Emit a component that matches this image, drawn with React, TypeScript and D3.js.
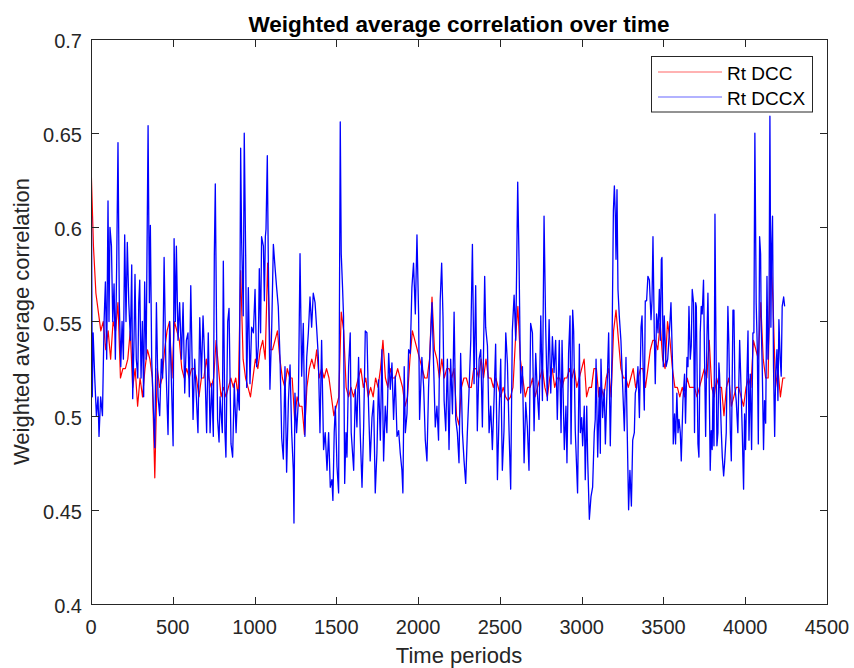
import React from 'react';
import * as d3 from 'd3';

const TITLE = 'Weighted average correlation over time';
const X_LABEL = 'Time periods';
const Y_LABEL = 'Weighted average correlation';
const SERIES_NAMES = ['Rt DCC', 'Rt DCCX'];
const SERIES_COLORS = ['#ff0000', '#0000ff'];
const X_TICKS = [0, 500, 1000, 1500, 2000, 2500, 3000, 3500, 4000, 4500];
const Y_TICKS = [0.4, 0.45, 0.5, 0.55, 0.6, 0.65, 0.7];
const Y_TICK_LABELS = ['0.4', '0.45', '0.5', '0.55', '0.6', '0.65', '0.7'];
const X_DOMAIN = [0, 4500];
const Y_DOMAIN = [0.4, 0.7];
// sampling interval (time periods) of the Rt DCC values
const DCC_TIME_STEP = 15;

const rtDCC = [
  0.634, 0.59, 0.565, 0.555, 0.545, 0.55, 0.535, 0.545, 0.53, 0.55,
  0.545, 0.56, 0.52, 0.525, 0.525, 0.53, 0.545, 0.515, 0.525, 0.505,
  0.52, 0.51, 0.525, 0.535, 0.53, 0.52, 0.467, 0.525, 0.515, 0.52,
  0.535, 0.545, 0.55, 0.52, 0.55, 0.545, 0.54, 0.525, 0.52, 0.525,
  0.52, 0.525, 0.525, 0.52, 0.51, 0.52, 0.52, 0.53,
  0.52, 0.515, 0.52, 0.54, 0.525, 0.51, 0.515, 0.51, 0.515, 0.52,
  0.515, 0.52, 0.51, 0.577, 0.53, 0.52, 0.515, 0.51, 0.52, 0.53,
  0.525, 0.535, 0.54, 0.53, 0.581, 0.535, 0.535, 0.54, 0.545, 0.53,
  0.52, 0.515, 0.525, 0.52, 0.52, 0.498, 0.51, 0.505, 0.505, 0.49,
  0.515, 0.525, 0.53, 0.525, 0.535, 0.52, 0.525,
  0.52, 0.525, 0.52, 0.51, 0.50, 0.505, 0.51, 0.555, 0.545, 0.515,
  0.51, 0.515, 0.51, 0.515, 0.52, 0.525, 0.515, 0.52, 0.51, 0.515,
  0.51, 0.52, 0.515, 0.525, 0.54, 0.52, 0.515, 0.525, 0.52, 0.52,
  0.525, 0.52, 0.515, 0.505, 0.51, 0.53, 0.545, 0.54, 0.535, 0.53,
  0.525, 0.52, 0.52, 0.53, 0.563, 0.535, 0.53, 0.52,
  0.53, 0.52, 0.525, 0.525, 0.52, 0.525, 0.50, 0.495, 0.515, 0.52,
  0.52, 0.515, 0.515, 0.525, 0.525, 0.52, 0.53, 0.52, 0.53, 0.52,
  0.52, 0.515, 0.52, 0.515, 0.51, 0.515, 0.51, 0.508, 0.51, 0.515,
  0.54, 0.558, 0.53, 0.52, 0.51, 0.515, 0.515, 0.52, 0.51, 0.515,
  0.52, 0.525, 0.515, 0.51, 0.52, 0.525, 0.515, 0.52,
  0.52, 0.515, 0.52, 0.52, 0.525, 0.52, 0.525, 0.515, 0.52, 0.525,
  0.53, 0.51, 0.515, 0.515, 0.525, 0.525, 0.51, 0.515, 0.51, 0.52,
  0.525, 0.51, 0.545, 0.556, 0.54, 0.525, 0.52, 0.52, 0.515, 0.52,
  0.525, 0.515, 0.52, 0.525, 0.525, 0.515, 0.525, 0.535, 0.54, 0.54,
  0.535, 0.549, 0.53, 0.525, 0.55, 0.54, 0.525,
  0.515, 0.515, 0.51, 0.515, 0.51, 0.52, 0.515, 0.515, 0.515, 0.51,
  0.515, 0.52, 0.525, 0.52, 0.54, 0.515, 0.51, 0.52, 0.515, 0.515,
  0.50, 0.515, 0.52, 0.505, 0.51, 0.515, 0.515, 0.51, 0.505, 0.515,
  0.52, 0.515, 0.54, 0.535, 0.53, 0.56, 0.53, 0.52, 0.52, 0.59,
  0.56, 0.515, 0.525, 0.51, 0.52, 0.52,
];

// Rt DCCX as [time period, value] readings
const rtDCCX: [number, number][] = [
  [0, 0.53], [3, 0.606], [8, 0.51], [13, 0.544], [23, 0.52], [33, 0.5], [43, 0.51], [49, 0.489],
  [59, 0.51], [70, 0.5], [80, 0.55], [88, 0.571], [96, 0.53], [104, 0.614], [110, 0.55], [116, 0.6],
  [125, 0.59], [133, 0.55], [141, 0.57], [149, 0.53], [157, 0.58], [165, 0.645], [173, 0.56], [182, 0.526],
  [190, 0.55], [198, 0.53], [206, 0.596], [214, 0.55], [222, 0.592], [231, 0.56], [241, 0.54], [249, 0.58],
  [255, 0.509], [263, 0.54], [269, 0.575], [277, 0.53], [286, 0.52], [292, 0.56], [298, 0.572], [306, 0.52],
  [314, 0.55], [322, 0.51], [328, 0.571], [337, 0.53], [349, 0.654], [357, 0.56], [363, 0.601], [371, 0.53],
  [379, 0.51], [390, 0.483], [400, 0.56], [410, 0.51], [420, 0.5], [430, 0.53], [438, 0.52], [447, 0.584],
  [457, 0.53], [471, 0.49], [481, 0.55], [491, 0.52], [502, 0.484], [508, 0.594], [516, 0.55], [522, 0.59],
  [532, 0.54], [542, 0.56], [553, 0.53], [563, 0.56], [573, 0.512], [583, 0.54], [593, 0.544], [601, 0.51],
  [610, 0.569], [618, 0.53], [624, 0.498], [634, 0.53], [644, 0.51], [654, 0.491], [665, 0.552], [675, 0.52],
  [685, 0.553], [695, 0.53],
  [707, 0.491], [717, 0.544], [728, 0.491], [738, 0.517], [748, 0.489], [754, 0.585], [760, 0.623], [768, 0.544],
  [774, 0.498], [783, 0.486], [789, 0.51], [803, 0.491], [809, 0.582], [819, 0.491], [825, 0.478], [836, 0.55],
  [844, 0.557], [856, 0.485], [866, 0.478], [876, 0.517], [887, 0.491], [897, 0.514], [907, 0.503], [915, 0.642],
  [921, 0.593], [931, 0.553], [937, 0.65], [946, 0.583], [952, 0.515], [962, 0.568], [972, 0.517], [982, 0.547],
  [993, 0.544], [1003, 0.567], [1013, 0.526], [1023, 0.537], [1029, 0.578], [1037, 0.544], [1043, 0.595], [1054, 0.59],
  [1060, 0.561], [1066, 0.595], [1070, 0.599], [1078, 0.638], [1084, 0.583], [1094, 0.514], [1105, 0.547], [1115, 0.591],
  [1125, 0.579], [1135, 0.568], [1145, 0.558], [1156, 0.53], [1166, 0.488], [1176, 0.477], [1186, 0.526], [1196, 0.47],
  [1207, 0.508], [1217, 0.527], [1227, 0.491], [1237, 0.471], [1241, 0.443], [1247, 0.512], [1257, 0.491], [1268, 0.508],
  [1278, 0.586], [1288, 0.521], [1298, 0.549], [1308, 0.489], [1319, 0.531], [1329, 0.544], [1339, 0.563], [1349, 0.547],
  [1359, 0.565], [1370, 0.56], [1380, 0.546], [1390, 0.531], [1400, 0.491], [1410, 0.54],
  [1422, 0.482], [1432, 0.491], [1443, 0.471], [1453, 0.491], [1463, 0.462], [1473, 0.466], [1479, 0.455], [1487, 0.491],
  [1494, 0.505], [1504, 0.473], [1514, 0.459], [1524, 0.656], [1530, 0.586], [1538, 0.568], [1544, 0.553], [1551, 0.464],
  [1559, 0.491], [1565, 0.478], [1575, 0.526], [1585, 0.544], [1591, 0.491], [1606, 0.471], [1616, 0.514], [1626, 0.494],
  [1636, 0.531], [1646, 0.491], [1657, 0.462], [1667, 0.494], [1677, 0.545], [1687, 0.544], [1697, 0.505], [1707, 0.476],
  [1718, 0.499], [1728, 0.508], [1738, 0.459], [1748, 0.48], [1758, 0.519], [1769, 0.487], [1779, 0.535], [1789, 0.476],
  [1799, 0.505], [1809, 0.491], [1820, 0.533], [1830, 0.514], [1840, 0.528], [1850, 0.498], [1860, 0.521], [1871, 0.489],
  [1881, 0.492], [1891, 0.48], [1901, 0.471], [1907, 0.459], [1915, 0.526], [1922, 0.491], [1932, 0.501], [1942, 0.535],
  [1952, 0.533], [1962, 0.568], [1972, 0.581], [1983, 0.554], [1993, 0.596], [2003, 0.554], [2009, 0.498], [2023, 0.531],
  [2034, 0.515], [2044, 0.487], [2054, 0.476], [2064, 0.515], [2074, 0.537], [2085, 0.56], [2095, 0.526], [2105, 0.494],
  [2115, 0.505], [2125, 0.487], [2135, 0.561],
  [2144, 0.581], [2152, 0.553], [2159, 0.508], [2169, 0.492], [2179, 0.53], [2189, 0.482], [2199, 0.53], [2210, 0.501],
  [2220, 0.555], [2230, 0.498], [2240, 0.491], [2250, 0.475], [2260, 0.533], [2271, 0.491], [2281, 0.476], [2291, 0.464],
  [2301, 0.491], [2311, 0.512], [2322, 0.54], [2332, 0.591], [2342, 0.517], [2352, 0.569], [2362, 0.492], [2373, 0.53],
  [2383, 0.535], [2393, 0.494], [2407, 0.574], [2413, 0.547], [2424, 0.537], [2434, 0.491], [2444, 0.505], [2454, 0.482],
  [2464, 0.508], [2474, 0.538], [2485, 0.466], [2495, 0.501], [2505, 0.53], [2515, 0.471], [2525, 0.492], [2536, 0.544],
  [2546, 0.528], [2556, 0.492], [2566, 0.461], [2576, 0.545], [2587, 0.564], [2597, 0.54], [2609, 0.624], [2617, 0.583],
  [2627, 0.512], [2638, 0.526], [2648, 0.475], [2658, 0.507], [2668, 0.494], [2678, 0.471], [2688, 0.549], [2699, 0.544],
  [2709, 0.492], [2719, 0.533], [2729, 0.512], [2739, 0.498], [2750, 0.553], [2760, 0.508], [2770, 0.606], [2780, 0.547],
  [2790, 0.508], [2801, 0.551], [2811, 0.512], [2821, 0.542], [2831, 0.523], [2841, 0.54], [2851, 0.498],
  [2863, 0.54], [2874, 0.491], [2880, 0.54], [2894, 0.482], [2904, 0.505], [2910, 0.475], [2920, 0.533], [2929, 0.553],
  [2935, 0.485], [2945, 0.556], [2951, 0.545], [2961, 0.492], [2969, 0.473], [2975, 0.459], [2986, 0.538], [2992, 0.491],
  [3000, 0.499], [3006, 0.484], [3016, 0.505], [3022, 0.466], [3031, 0.505], [3037, 0.476], [3047, 0.445], [3057, 0.457],
  [3067, 0.462], [3077, 0.491], [3083, 0.498], [3088, 0.53], [3098, 0.478], [3108, 0.515], [3114, 0.48], [3118, 0.53],
  [3128, 0.499], [3138, 0.514], [3145, 0.485], [3155, 0.514], [3165, 0.544], [3175, 0.484], [3185, 0.531], [3194, 0.609],
  [3200, 0.622], [3206, 0.606], [3210, 0.583], [3216, 0.62], [3222, 0.567], [3230, 0.553], [3240, 0.54], [3251, 0.515],
  [3261, 0.492], [3271, 0.531], [3277, 0.499], [3287, 0.45], [3295, 0.471], [3304, 0.452], [3312, 0.487], [3322, 0.491],
  [3328, 0.512], [3336, 0.515], [3344, 0.526], [3353, 0.499], [3363, 0.547], [3369, 0.553], [3377, 0.522], [3383, 0.503],
  [3389, 0.561], [3397, 0.561], [3405, 0.574], [3414, 0.572], [3424, 0.551], [3430, 0.561], [3436, 0.595], [3444, 0.544],
  [3450, 0.517], [3458, 0.554], [3467, 0.544], [3475, 0.567], [3481, 0.54], [3487, 0.583], [3491, 0.584], [3499, 0.526],
  [3505, 0.553], [3516, 0.526], [3526, 0.53], [3536, 0.544], [3546, 0.56], [3556, 0.526], [3560, 0.485],
  [3568, 0.501], [3574, 0.485], [3582, 0.512], [3589, 0.491], [3595, 0.498], [3603, 0.491], [3609, 0.476], [3619, 0.508],
  [3629, 0.522], [3635, 0.496], [3644, 0.531], [3650, 0.526], [3656, 0.558], [3664, 0.53], [3670, 0.537], [3676, 0.567],
  [3684, 0.56], [3690, 0.491], [3697, 0.56], [3701, 0.558], [3711, 0.485], [3717, 0.478], [3725, 0.544], [3731, 0.558],
  [3737, 0.554], [3745, 0.572], [3752, 0.526], [3758, 0.489], [3766, 0.542], [3772, 0.565], [3778, 0.53], [3786, 0.471],
  [3792, 0.492], [3798, 0.482], [3803, 0.515], [3809, 0.484], [3815, 0.607], [3819, 0.56], [3827, 0.484], [3833, 0.491],
  [3839, 0.528], [3843, 0.522], [3854, 0.491], [3860, 0.478], [3868, 0.468], [3874, 0.475], [3884, 0.491], [3894, 0.558],
  [3900, 0.538], [3909, 0.491], [3915, 0.476], [3925, 0.556], [3931, 0.556], [3937, 0.515], [3945, 0.508], [3955, 0.491],
  [3966, 0.54], [3976, 0.51], [3982, 0.491], [3990, 0.461], [3996, 0.501], [4002, 0.482], [4010, 0.519], [4017, 0.545],
  [4023, 0.487], [4031, 0.522], [4039, 0.482], [4047, 0.544], [4053, 0.544], [4059, 0.65], [4067, 0.56], [4074, 0.535],
  [4080, 0.485], [4088, 0.595], [4094, 0.586], [4098, 0.547], [4104, 0.526], [4112, 0.482], [4118, 0.508], [4125, 0.496],
  [4133, 0.574], [4139, 0.53], [4145, 0.547], [4151, 0.659], [4157, 0.547], [4161, 0.586], [4167, 0.606], [4173, 0.526],
  [4180, 0.489], [4186, 0.522], [4194, 0.535], [4200, 0.508], [4206, 0.551], [4214, 0.53], [4220, 0.521], [4226, 0.558],
  [4235, 0.563], [4241, 0.558],
];

const WIDTH = 854;
const HEIGHT = 668;
const PLOT = { left: 91, right: 827, top: 39, bottom: 604 };
const AXIS_COLOR = '#262626';
const FONT = '"Liberation Sans", Arial, Helvetica, sans-serif';
const TICK_LEN = 7.5;

export default function App() {
  const x = d3.scaleLinear().domain(X_DOMAIN).range([PLOT.left, PLOT.right]);
  const y = d3.scaleLinear().domain(Y_DOMAIN).range([PLOT.bottom, PLOT.top]);

  const dccPath =
    d3
      .line<number>()
      .x((_, i) => x(i * DCC_TIME_STEP))
      .y((d) => y(d))(rtDCC) || '';
  const dccxPath =
    d3
      .line<[number, number]>()
      .x((d) => x(d[0]))
      .y((d) => y(d[1]))(rtDCCX) || '';

  const legend = { left: 651.5, top: 56.5, width: 161, height: 55.5 };

  return (
    <svg
      width={WIDTH}
      height={HEIGHT}
      style={{ position: 'absolute', left: 0, top: 0, background: '#fff' }}
      fontFamily={FONT}
    >
      <rect x={0} y={0} width={WIDTH} height={HEIGHT} fill="#ffffff" />
      <defs>
        <clipPath id="plotClip">
          <rect
            x={PLOT.left}
            y={PLOT.top}
            width={PLOT.right - PLOT.left}
            height={PLOT.bottom - PLOT.top}
          />
        </clipPath>
      </defs>

      <g clipPath="url(#plotClip)">
        <path d={dccPath} fill="none" stroke={SERIES_COLORS[0]} strokeWidth={1.2} strokeLinejoin="round" />
        <path d={dccxPath} fill="none" stroke={SERIES_COLORS[1]} strokeWidth={1.3} strokeLinejoin="round" />
      </g>

      {/* box */}
      <rect
        x={PLOT.left + 0.5}
        y={PLOT.top + 0.5}
        width={PLOT.right - PLOT.left}
        height={PLOT.bottom - PLOT.top}
        fill="none"
        stroke={AXIS_COLOR}
        strokeWidth={1}
      />

      {/* x ticks */}
      {X_TICKS.map((t) => {
        const px = Math.round(x(t)) + 0.5;
        return (
          <g key={'x' + t}>
            <line x1={px} x2={px} y1={PLOT.bottom + 0.5} y2={PLOT.bottom + 0.5 - TICK_LEN} stroke={AXIS_COLOR} />
            <line x1={px} x2={px} y1={PLOT.top + 0.5} y2={PLOT.top + 0.5 + TICK_LEN} stroke={AXIS_COLOR} />
            <text x={x(t)} y={634} textAnchor="middle" fontSize={20} fill={AXIS_COLOR}>
              {String(t)}
            </text>
          </g>
        );
      })}

      {/* y ticks */}
      {Y_TICKS.map((t, i) => {
        const py = Math.round(y(t)) + 0.5;
        return (
          <g key={'y' + t}>
            <line x1={PLOT.left + 0.5} x2={PLOT.left + 0.5 + TICK_LEN} y1={py} y2={py} stroke={AXIS_COLOR} />
            <line x1={PLOT.right + 0.5} x2={PLOT.right + 0.5 - TICK_LEN} y1={py} y2={py} stroke={AXIS_COLOR} />
            <text x={82} y={y(t) + 9} textAnchor="end" fontSize={20} fill={AXIS_COLOR}>
              {Y_TICK_LABELS[i]}
            </text>
          </g>
        );
      })}

      {/* title */}
      <text
        x={(PLOT.left + PLOT.right) / 2}
        y={32}
        textAnchor="middle"
        fontSize={22.5}
        fontWeight="bold"
        fill="#000"
      >
        {TITLE}
      </text>

      {/* axis labels */}
      <text
        x={(PLOT.left + PLOT.right) / 2}
        y={663}
        textAnchor="middle"
        fontSize={22}
        fill={AXIS_COLOR}
      >
        {X_LABEL}
      </text>
      <text
        transform={`translate(29, ${(PLOT.top + PLOT.bottom) / 2}) rotate(-90)`}
        textAnchor="middle"
        fontSize={22}
        fill={AXIS_COLOR}
      >
        {Y_LABEL}
      </text>

      {/* legend */}
      <g>
        <rect
          x={legend.left}
          y={legend.top}
          width={legend.width}
          height={legend.height}
          fill="#fff"
          stroke={AXIS_COLOR}
          strokeWidth={1}
        />
        {SERIES_NAMES.map((name, k) => {
          const ly = legend.top + 15.5 + k * 25;
          return (
            <g key={name}>
              <line
                x1={legend.left + 6.5}
                x2={legend.left + 70.5}
                y1={ly}
                y2={ly}
                stroke={SERIES_COLORS[k]}
                strokeOpacity={0.6}
                strokeWidth={1.2}
              />
              <text x={legend.left + 75.5} y={ly + 7.5} fontSize={19} fill="#000">
                {name}
              </text>
            </g>
          );
        })}
      </g>
    </svg>
  );
}
